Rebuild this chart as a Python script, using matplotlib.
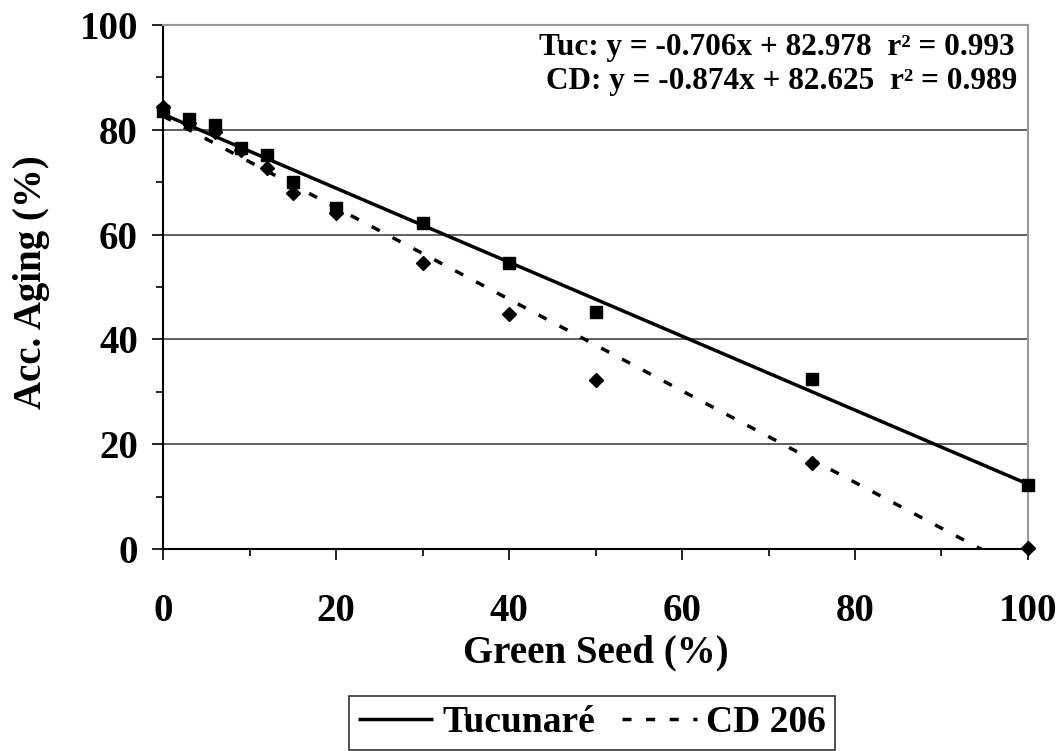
import numpy as np
from matplotlib import pyplot as plt
from matplotlib.ticker import MultipleLocator

plt.rcParams['font.family'] = ['Liberation Serif', 'DejaVu Serif']
plt.rcParams['font.weight'] = 'bold'

# green seed (%) levels
green = [0, 3, 6, 9, 12, 15, 20, 30, 40, 50, 75, 100]
# accelerated aging (%) for each cultivar
tuc = [83.5, 82.0, 80.9, 76.6, 75.2, 70.1, 65.0, 62.3, 54.6, 45.3, 32.5, 12.3]
cd = [84.4, 81.3, 79.6, 76.2, 72.8, 67.9, 64.2, 54.6, 44.8, 32.3, 16.4, 0.2]

# regression coefficients printed on the chart
tuc_fit = (-0.706, 82.978)
cd_fit = (-0.874, 82.625)

fig = plt.figure(figsize=(10.6, 7.51), dpi=100)
ax = fig.add_axes([0.1538, 0.269, 0.8160, 0.6977])

xx = np.array([0, 100])
l1, = ax.plot(xx, tuc_fit[0]*xx + tuc_fit[1], color='black', lw=2.5,
              solid_capstyle='butt', label='Tucunaré')
l2, = ax.plot(xx, cd_fit[0]*xx + cd_fit[1], color='black', lw=2.5,
              dashes=(2.6, 4.2), label='CD 206')
ax.plot(green, tuc, 's', color='black', ms=9, clip_on=False, zorder=5)
ax.plot(green, cd, 'D', color='black', ms=7.5, clip_on=False, zorder=5)

ax.set_xlim(0, 100)
ax.set_ylim(0, 100)
ax.xaxis.set_major_locator(MultipleLocator(20))
ax.xaxis.set_minor_locator(MultipleLocator(10))
ax.yaxis.set_major_locator(MultipleLocator(20))
ax.yaxis.set_minor_locator(MultipleLocator(10))
ax.tick_params(which='major', direction='out', length=8, width=1.2, labelsize=28)
ax.tick_params(axis='x', pad=24)
ax.tick_params(axis='y', pad=10)
ax.tick_params(which='minor', direction='out', length=5, width=1.2)
for lab in ax.get_xticklabels() + ax.get_yticklabels():
    lab.set_fontweight('bold')

ax.grid(axis='y', which='major', color='#444444', lw=1.2)
for s in ['top', 'right']:
    ax.spines[s].set_color('#999999')
    ax.spines[s].set_linewidth(1.5)
for s in ['left', 'bottom']:
    ax.spines[s].set_color('black')
    ax.spines[s].set_linewidth(1.5)

ax.set_xlabel('Green Seed (%)', fontsize=28, fontweight='bold')
ax.set_ylabel('Acc. Aging (%)', fontsize=28, fontweight='bold')
ax.xaxis.set_label_coords(0.5, -0.163)
ax.yaxis.set_label_coords(-0.131, 0.51)

ax.text(0.985, 0.9437, 'Tuc: y = -0.706x + 82.978  r² = 0.993', transform=ax.transAxes,
        ha='right', va='baseline', fontsize=22.5, fontweight='bold')
ax.text(0.9873, 0.8773, 'CD: y = -0.874x + 82.625  r² = 0.989', transform=ax.transAxes,
        ha='right', va='baseline', fontsize=22.5, fontweight='bold')

leg = fig.legend(handles=[l1, l2], loc='center', bbox_to_anchor=(592/1060, 1-723/751),
                 ncol=2, frameon=True, fancybox=False, edgecolor='black',
                 prop={'size': 27, 'weight': 'bold'}, handlelength=2.0,
                 columnspacing=0.7, handletextpad=0.25, borderpad=0.25)
leg.get_frame().set_linewidth(1.2)

fig.savefig('out.png', dpi=100)
